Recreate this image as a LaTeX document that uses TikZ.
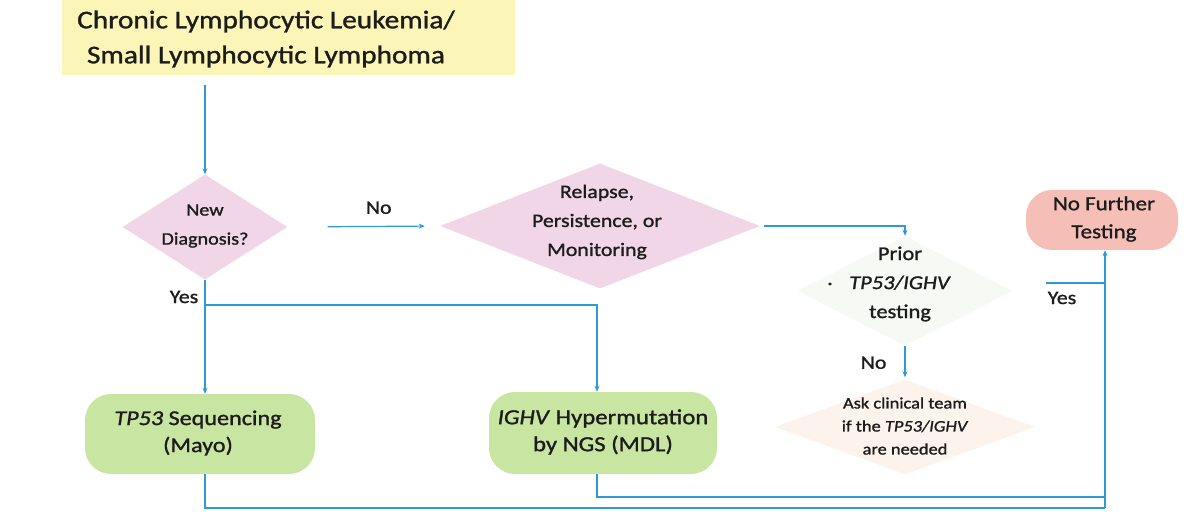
\documentclass[tikz,border=0pt]{standalone}
\usepackage{fontspec}
% the scanned lettering runs a little wide and heavy, so the glyphs are stretched and thickened
\setmainfont{Carlito}[FakeStretch=1.15, FakeBold=1.2]
\usetikzlibrary{shapes.geometric,arrows.meta}
\definecolor{titlefill}{HTML}{FCF5B8}
\definecolor{qfill}{HTML}{F0D6E7}
\definecolor{testfill}{HTML}{C9E5A2}
\definecolor{stopfill}{HTML}{F5BFB7}
\definecolor{askfill}{HTML}{FCF3EC}
\definecolor{priorfill}{HTML}{F7F9F4}
\definecolor{flow}{HTML}{2E9BD6}
\definecolor{ink}{HTML}{1C1C1C}
\tikzset{
  txt/.style={align=center, text=ink, inner sep=0pt, font=\fontsize{19}{29}\selectfont},
  smalltxt/.style={align=center, text=ink, inner sep=0pt, font=\fontsize{16}{23}\selectfont},
  lbl/.style={text=ink, inner sep=0pt, font=\fontsize{19}{20}\selectfont},
  decision/.style={diamond, draw=none, inner sep=0pt},
  pill/.style={rectangle, rounded corners=26pt, draw=none, inner sep=0pt},
  link/.style={draw=flow, line width=1.2pt},
  arr/.style={link, -{Stealth[length=6pt,width=5pt]}},
}
\begin{document}
\begin{tikzpicture}[x=1pt,y=-1pt]
\useasboundingbox (0,0) rectangle (1191,529);

% title banner
\node[rectangle, fill=titlefill, minimum width=453pt, minimum height=75pt, inner sep=0pt] (title) at (288.5,37.5) {};
\node[align=center, text=ink, inner sep=0pt, font=\fontsize{25.5}{35}\selectfont] (titletext) at (266,39)
  {Chronic Lymphocytic Leukemia/\\Small Lymphocytic Lymphoma};

% decisions
\node[decision, fill=qfill, minimum width=165pt, minimum height=105pt] (nd) at (205,227) {};
\node[txt, font=\fontsize{17.5}{29}\selectfont] (ndtext) at (205,226) {New\\Diagnosis?};

\node[decision, fill=qfill, minimum width=320pt, minimum height=125pt] (rel) at (600,226) {};
\node[txt] (reltext) at (597,222) {Relapse,\\Persistence, or\\Monitoring};

\node[decision, fill=priorfill, minimum width=215pt, minimum height=110pt] (prior) at (905,291) {};
\node[txt, font=\fontsize{19.5}{29}\selectfont] (priortext) at (900,284) {Prior\\\textit{TP53/IGHV}\\testing};
\node[txt] (dot) at (830,284) {.};

\node[decision, fill=askfill, minimum width=260pt, minimum height=95pt] (ask) at (905,427) {};
\node[smalltxt] (asktext) at (905,426) {Ask clinical team\\if the \textit{TP53/IGHV}\\are needed};

% outcomes
\node[pill, fill=stopfill, minimum width=152pt, minimum height=60pt] (nft) at (1102,220) {};
\node[txt, font=\fontsize{20}{28}\selectfont] (nfttext) at (1104,219) {No Further\\Testing};

\node[pill, fill=testfill, minimum width=230pt, minimum height=80pt] (tp) at (200,434) {};
\node[txt, font=\fontsize{21}{27}\selectfont] (tptext) at (198,433) {\textit{TP53} Sequencing\\(Mayo)};

\node[pill, fill=testfill, minimum width=228pt, minimum height=82pt] (ighv) at (603,433) {};
\node[txt, font=\fontsize{21.5}{27}\selectfont] (ighvtext) at (603,432) {\textit{IGHV} Hypermutation\\by NGS (MDL)};

% branch points
\coordinate (split) at (205,305);
\coordinate (tpbend) at (205,508);
\coordinate (ighvbend) at (597,497);
\coordinate (corner) at (1105,508);
\coordinate (yesend) at (1105,283);

% connectors
\draw[arr, shorten <=10pt] (nd.north |- title.south) -- (nd.north);
\draw[arr, shorten <=40pt, shorten >=15pt] (nd.east) -- node[lbl, above=12pt, xshift=15pt] (nolbl) {No} (rel.west);
\draw[arr, shorten <=4pt] (rel.east) -- (rel.east -| prior.north) -- (prior.north);
\draw[arr, shorten >=2pt] (prior.south) -- node[lbl, left=18pt] (no2lbl) {No} (ask.north);
\draw[link, shorten <=33pt] (prior.east |- yesend) -- (yesend);
\node[lbl] (yes2lbl) at (1062,298) {Yes};

\draw[arr] (nd.south) -- (nd.south |- tp.north);
\node[lbl] (yeslbl) at (184,297) {Yes};
\draw[arr] (split) -- (split -| ighvbend) -- (ighvbend |- ighv.north);

\draw[link] (tpbend |- tp.south) -- (tpbend) -- (corner);
\draw[link] (ighvbend |- ighv.south) -- (ighvbend) -- (ighvbend -| corner);
\draw[arr] (corner) -- (corner |- nft.south);
\end{tikzpicture}
\end{document}
